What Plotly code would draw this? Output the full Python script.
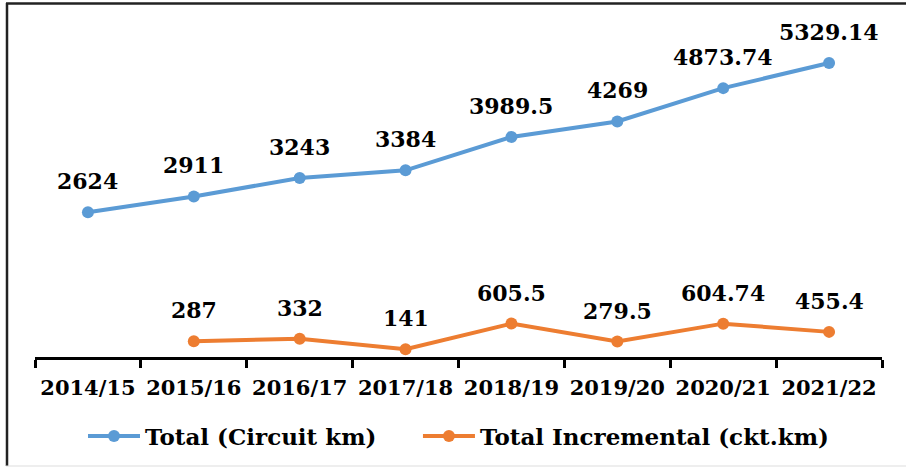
import plotly.graph_objects as go

years = ["2014/15", "2015/16", "2016/17", "2017/18", "2018/19", "2019/20", "2020/21", "2021/22"]
total_circuit = [2624, 2911, 3243, 3384, 3989.5, 4269, 4873.74, 5329.14]
total_incremental = [None, 287, 332, 141, 605.5, 279.5, 604.74, 455.4]
total_labels = ["2624", "2911", "3243", "3384", "3989.5", "4269", "4873.74", "5329.14"]
incr_labels = [None, "287", "332", "141", "605.5", "279.5", "604.74", "455.4"]

BLUE = "#5B9BD5"
ORANGE = "#ED7D31"
FONT = "DejaVu Serif"

fig = go.Figure()
fig.add_trace(go.Scatter(
    x=years, y=total_circuit, mode="lines+markers",
    name="<b>Total (Circuit km)</b>" + "&nbsp;" * 5,
    line=dict(color=BLUE, width=4), marker=dict(size=12, color=BLUE),
))
fig.add_trace(go.Scatter(
    x=years, y=total_incremental, mode="lines+markers", name="<b>Total Incremental (ckt.km)</b>",
    line=dict(color=ORANGE, width=4), marker=dict(size=12, color=ORANGE),
))

annotations = []
for x, y, t in zip(years, total_circuit, total_labels):
    annotations.append(dict(x=x, y=y, text=f"<b>{t}</b>", showarrow=False,
                            yanchor="middle", xanchor="center", yshift=31,
                            font=dict(family=FONT, size=22, color="#000000")))
for x, y, t in zip(years, total_incremental, incr_labels):
    if y is None:
        continue
    annotations.append(dict(x=x, y=y, text=f"<b>{t}</b>", showarrow=False,
                            yanchor="middle", xanchor="center", yshift=31,
                            font=dict(family=FONT, size=22, color="#000000")))

L, R, T, B = 35, 24, 26, 112
W, H = 906, 469
pw, ph = W - L - R, H - T - B

def px2paper_x(px):
    return (px - L) / pw

def px2paper_y(py):
    return (H - B - py) / ph

shapes = [
    dict(type="line", xref="paper", yref="paper", x0=px2paper_x(7), x1=px2paper_x(7),
         y0=px2paper_y(3), y1=px2paper_y(466), line=dict(color="#222222", width=2.5)),
    dict(type="line", xref="paper", yref="paper", x0=px2paper_x(6), x1=px2paper_x(906),
         y0=px2paper_y(3.5), y1=px2paper_y(3.5), line=dict(color="#222222", width=2.5)),
    dict(type="line", xref="paper", yref="paper", x0=px2paper_x(6), x1=px2paper_x(906),
         y0=px2paper_y(466), y1=px2paper_y(466), line=dict(color="#DDDDDD", width=1)),
]

fig.update_layout(
    width=W, height=H,
    margin=dict(l=L, r=R, t=T, b=B),
    paper_bgcolor="white", plot_bgcolor="white",
    font=dict(family=FONT, size=22, color="#000000"),
    showlegend=True,
    legend=dict(orientation="h", x=0.5, xanchor="center", y=px2paper_y(436), yanchor="middle",
                font=dict(family=FONT, size=23, color="#000000"), itemwidth=52),
    annotations=annotations,
    shapes=shapes,
    xaxis=dict(
        type="category", range=[-0.5, 7.5], showgrid=False, zeroline=False,
        showline=True, linecolor="#000000", linewidth=3,
        ticks="outside", tickson="boundaries", ticklen=8, tickwidth=3, tickcolor="#000000",
        tickfont=dict(family=FONT, size=21, color="#000000"), tickangle=0,
        tickprefix="<b>", ticksuffix="</b>", ticklabelstandoff=10,
    ),
    yaxis=dict(range=[0, 6000], visible=False, showgrid=False, zeroline=False),
)

fig.write_html("out.html")
